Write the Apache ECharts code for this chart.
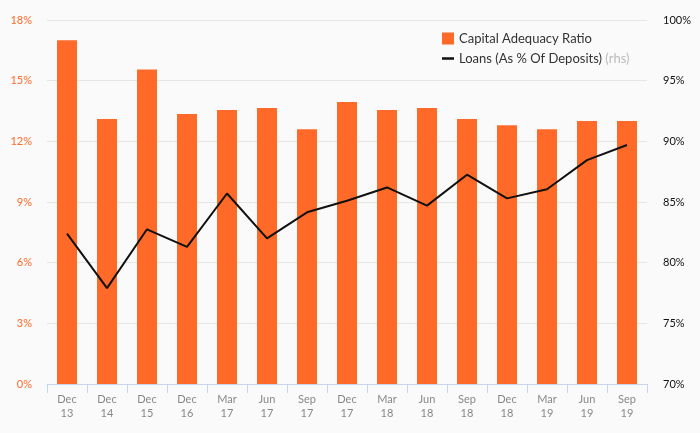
<!DOCTYPE html>
<html>
<head>
<meta charset="utf-8">
<script src="https://cdn.jsdelivr.net/npm/echarts@6/dist/echarts.min.js"></script>
<style>html,body{margin:0;padding:0;background:#fafafa;}#c{width:700px;height:433px;}</style>
</head>
<body>
<div id="c"></div>
<script>
var categories = ['Dec\n13','Dec\n14','Dec\n15','Dec\n16','Mar\n17','Jun\n17','Sep\n17','Dec\n17','Mar\n18','Jun\n18','Sep\n18','Dec\n18','Mar\n19','Jun\n19','Sep\n19'];
var capitalAdequacy = [17.0, 13.1, 15.55, 13.35, 13.55, 13.65, 12.6, 13.95, 13.55, 13.65, 13.1, 12.8, 12.6, 13.0, 13.0];
var loansToDeposits = [82.4, 77.9, 82.75, 81.3, 85.7, 82.0, 84.15, 85.1, 86.2, 84.7, 87.25, 85.3, 86.05, 88.45, 89.7];
var leftTicks = {min: 0, max: 18, interval: 3};
var rightTicks = {min: 70, max: 100, interval: 5};

var FONT = 'Lato';
var ORANGE = '#ff6a28';
var chart = echarts.init(document.getElementById('c'), null, {renderer: 'canvas'});
chart.setOption({
  backgroundColor: '#fafafa',
  animation: false,
  textStyle: {fontFamily: FONT},
  grid: {left: 47, right: 53, top: 20, bottom: 49, containLabel: false},
  legend: [{
    data: [{name: 'Capital Adequacy Ratio', icon: 'rect'}],
    orient: 'vertical', left: 437, top: 27,
    itemWidth: 12, itemHeight: 12, itemGap: 6,
    textStyle: {fontFamily: FONT, fontSize: 13, color: '#333'}
  }, {
    data: [{name: 'Loans (As % Of Deposits)', icon: 'rect'}],
    orient: 'vertical', left: 437, top: 47,
    itemWidth: 12, itemHeight: 2.5,
    formatter: function (n) { return n + ' {g|(rhs)}'; },
    textStyle: {fontFamily: FONT, fontSize: 13, color: '#333',
      rich: {g: {color: '#bbb', fontFamily: FONT, fontSize: 13}}}
  }],
  xAxis: {
    type: 'category', data: categories, boundaryGap: true,
    axisLine: {lineStyle: {color: '#c8d5ea', width: 1}},
    axisTick: {show: true, length: 9, lineStyle: {color: '#c8d5ea'}},
    axisLabel: {color: '#888', fontSize: 11, lineHeight: 14, margin: 8, fontFamily: FONT}
  },
  yAxis: [{
    type: 'value', min: leftTicks.min, max: leftTicks.max, interval: leftTicks.interval,
    axisLine: {show: false}, axisTick: {show: false},
    splitLine: {lineStyle: {color: '#e6e6e6', width: 1}},
    axisLabel: {color: ORANGE, fontSize: 11, margin: 15, formatter: '{value}%', fontFamily: FONT}
  }, {
    type: 'value', min: rightTicks.min, max: rightTicks.max, interval: rightTicks.interval,
    axisLine: {show: false}, axisTick: {show: false}, splitLine: {show: false},
    axisLabel: {color: '#111', fontSize: 11, margin: 16, formatter: '{value}%', fontFamily: FONT}
  }],
  series: [{
    name: 'Capital Adequacy Ratio', type: 'bar', data: capitalAdequacy,
    barWidth: 20, itemStyle: {color: ORANGE}, yAxisIndex: 0
  }, {
    name: 'Loans (As % Of Deposits)', type: 'line', data: loansToDeposits,
    yAxisIndex: 1, showSymbol: false, symbol: 'none',
    lineStyle: {color: '#111', width: 2}, itemStyle: {color: '#111'}
  }]
});
</script>
</body>
</html>
